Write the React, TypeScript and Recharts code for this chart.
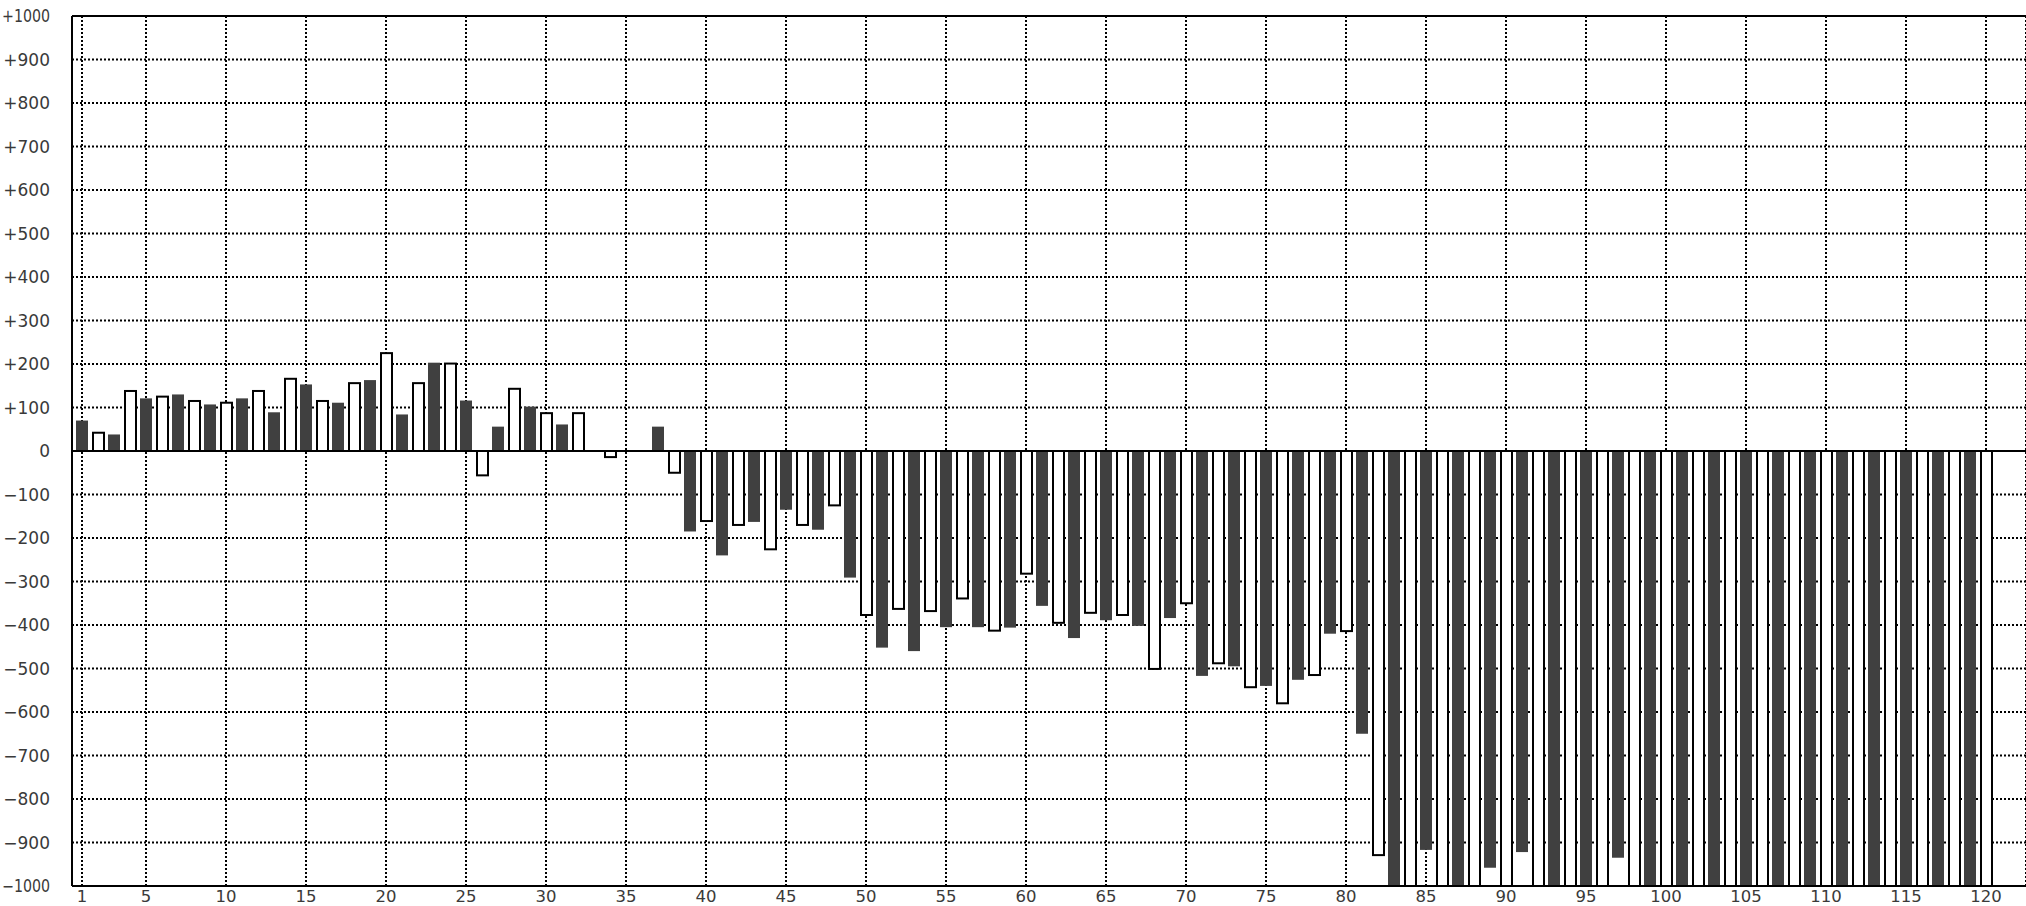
import { BarChart, Bar, XAxis, YAxis, CartesianGrid, ReferenceLine } from 'recharts';

// bar values (categories 1..120)
const values1to40 = [
  70, 42, 38, 138, 121, 125, 130, 115, 107, 111,
  121, 138, 89, 166, 153, 115, 111, 156, 163, 225,
  84, 156, 203, 201, 116, -56, 56, 143, 102, 87,
  61, 87, 0, -14, 0, 0, 56, -50, -185, -161,
];
const values41to80 = [
  -240, -170, -163, -226, -135, -170, -181, -125, -291, -377,
  -452, -363, -460, -368, -405, -339, -405, -413, -406, -282,
  -356, -395, -430, -372, -389, -377, -402, -501, -384, -350,
  -517, -488, -495, -543, -540, -580, -526, -515, -420, -414,
];
const values81to120 = [
  -650, -929, -1100, -1100, -917, -1100, -1100, -1100, -958, -1100,
  -922, -1100, -1100, -1100, -1100, -1100, -935, -1100, -1100, -1100,
  -1100, -1100, -1100, -1100, -1100, -1100, -1100, -1100, -1100, -1100,
  -1100, -1100, -1100, -1100, -1100, -1100, -1100, -1100, -1100, -1100,
];

const xTicks = [1, 5, 10, 15, 20, 25, 30, 35, 40, 45, 50, 55, 60, 65, 70, 75, 80, 85, 90, 95, 100, 105, 110, 115, 120];
const yTicks = [1000, 900, 800, 700, 600, 500, 400, 300, 200, 100, 0, -100, -200, -300, -400, -500, -600, -700, -800, -900, -1000];
const yTickLabels = [
  '+1000', '+900', '+800', '+700', '+600', '+500', '+400', '+300', '+200', '+100', '0',
  '\u2212100', '\u2212200', '\u2212300', '\u2212400', '\u2212500', '\u2212600', '\u2212700', '\u2212800', '\u2212900', '\u22121000',
];

const values = [...values1to40, ...values41to80, ...values81to120];
const data = values.map((v, i) => ({ n: i + 1, v }));

const FONT = 'DejaVu Sans';

function DeltaBar(props: any) {
  const { x, y, width, height, index } = props;
  if (x == null || !height) return <g />;
  const top = Math.min(y, y + height);
  const h = Math.abs(height);
  // odd categories dark, even categories hollow
  if (index % 2 === 0) {
    return <rect x={x} y={top} width={width} height={h} fill="#404040" />;
  }
  return <rect x={x + 1} y={top} width={width - 1} height={h} fill="#fff" stroke="#000" strokeWidth={2} />;
}

function YTick({ y, payload }: any) {
  const i = yTicks.indexOf(payload.value);
  const label = yTickLabels[i];
  // the two 5-char labels would run off the left edge, squeeze them a bit
  const squeeze = label.length > 4 ? { textLength: 48, lengthAdjust: 'spacingAndGlyphs' as const } : {};
  return (
    <text x={50} y={y} dy="0.36em" textAnchor="end" fontSize={17} fontFamily={FONT} fill="#3a3a3a" {...squeeze}>
      {label}
    </text>
  );
}

function XTick({ x, payload }: any) {
  return (
    <text x={x} y={901.5} textAnchor="middle" fontSize={16.5} fontFamily={FONT} fill="#3a3a3a">
      {payload.value}
    </text>
  );
}

export default function App() {
  return (
    <div style={{ position: 'absolute', left: 0, top: 0, width: 2026, height: 906, background: '#fff' }}>
      <BarChart width={2026} height={906} data={data} margin={{ top: 16, right: 0, bottom: 0, left: 0 }}>
        <CartesianGrid stroke="#000" strokeWidth={2} strokeDasharray="2 2" />
        <XAxis
          dataKey="n"
          type="number"
          domain={[0.375, 122.5]}
          allowDataOverflow
          ticks={xTicks}
          interval={0}
          height={20}
          tickLine={false}
          axisLine={{ stroke: '#000', strokeWidth: 2 }}
          tick={<XTick />}
        />
        <YAxis
          domain={[-1000, 1000]}
          allowDataOverflow
          ticks={yTicks}
          interval={0}
          width={72}
          tickLine={false}
          axisLine={{ stroke: '#000', strokeWidth: 2 }}
          tick={<YTick />}
        />
        <Bar dataKey="v" barSize={12} shape={<DeltaBar />} isAnimationActive={false} />
        <ReferenceLine y={0} stroke="#000" strokeWidth={2} />
        <ReferenceLine y={1000} stroke="#000" strokeWidth={2} />
      </BarChart>
    </div>
  );
}
